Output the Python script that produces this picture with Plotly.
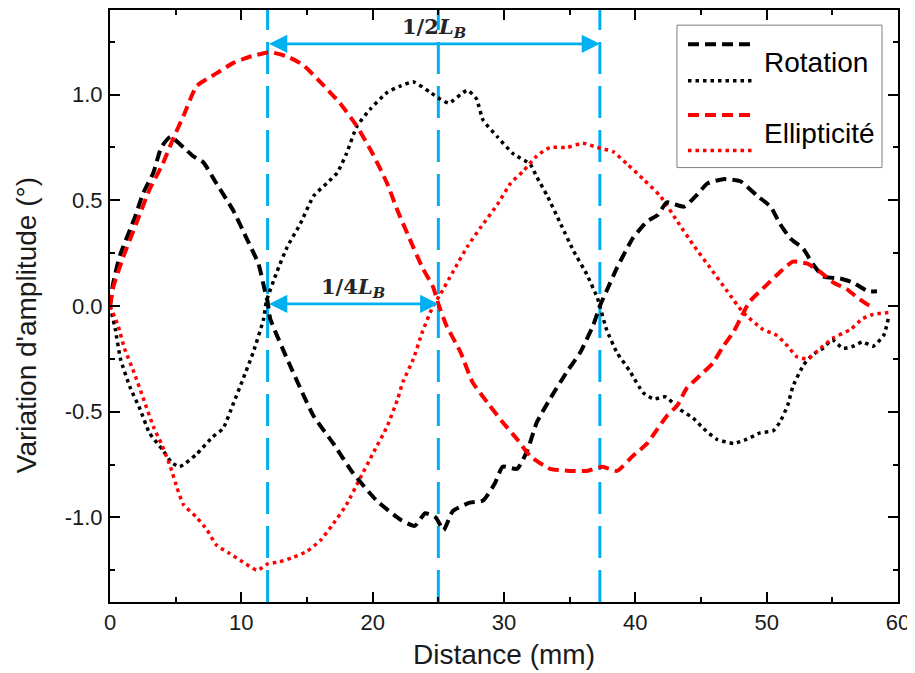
import plotly.graph_objects as go

# ---------------- data ----------------
rot_dash_x = [0, 0.25, 0.76, 1.9, 2.5, 3.3, 3.9, 4.6, 5.6, 6.3, 7.1, 8.0, 9.4, 10.4, 11.3, 11.8, 12.0,
              12.2, 13.7, 15.5, 17.0, 18.5, 20.3, 22.1, 23.2, 24.0, 24.8, 25.4, 26.1, 27.4, 28.4, 29.3,
              29.9, 31.0, 31.8, 32.5, 33.5, 34.8, 35.8, 36.8, 37.3, 37.8, 38.6, 39.8, 40.9, 41.7, 42.4,
              43.7, 44.6, 45.5, 46.7, 48.0, 49.3, 50.3, 51.0, 51.8, 52.8, 53.5, 54.3, 55.6, 56.6, 57.7, 58.4]
rot_dash_y = [0, 0.11, 0.24, 0.42, 0.53, 0.63, 0.75, 0.80, 0.75, 0.71, 0.68, 0.59, 0.45, 0.32, 0.20, 0.07, 0.02,
              -0.06, -0.28, -0.52, -0.65, -0.79, -0.92, -1.01, -1.04, -0.98, -1.00, -1.06, -0.97, -0.93, -0.92, -0.84,
              -0.76, -0.77, -0.68, -0.55, -0.44, -0.31, -0.22, -0.09, 0.0, 0.07, 0.18, 0.32, 0.40, 0.43, 0.49,
              0.47, 0.52, 0.58, 0.60, 0.59, 0.52, 0.47, 0.39, 0.32, 0.27, 0.20, 0.14, 0.13, 0.11, 0.07, 0.07]

rot_dot_x = [0, 0.4, 0.8, 1.5, 2.3, 3.0, 4.0, 4.7, 5.3, 6.6, 7.8, 8.6, 9.4, 10.1, 10.9, 11.7, 11.9,
             12.7, 13.5, 14.5, 15.5, 16.5, 17.3, 18.0, 18.8, 19.8, 21.1, 22.1, 23.1, 24.4, 25.1, 25.8,
             27.2, 27.9, 28.4, 29.5, 30.7, 32.0, 32.5, 33.3, 34.3, 35.3, 36.3, 37.1, 37.3, 37.8, 38.6,
             39.6, 40.6, 41.4, 42.3, 43.4, 44.4, 45.2, 46.2, 47.5, 48.5, 49.5, 50.5, 51.0, 51.6, 52.0,
             52.8, 53.5, 54.3, 55.0, 55.8, 56.6, 57.3, 58.1, 58.9, 59.3]
rot_dot_y = [0, -0.11, -0.25, -0.38, -0.49, -0.60, -0.68, -0.74, -0.76, -0.70, -0.62, -0.58, -0.46, -0.35, -0.22, -0.06, 0.02,
             0.16, 0.28, 0.39, 0.52, 0.58, 0.63, 0.72, 0.85, 0.93, 1.01, 1.04, 1.06, 1.01, 0.98, 0.96,
             1.02, 0.98, 0.88, 0.80, 0.72, 0.67, 0.61, 0.52, 0.39, 0.26, 0.15, 0.04, 0.0, -0.11, -0.22,
             -0.31, -0.41, -0.44, -0.43, -0.49, -0.53, -0.58, -0.63, -0.65, -0.63, -0.60, -0.59, -0.55, -0.47, -0.38,
             -0.28, -0.23, -0.20, -0.16, -0.20, -0.19, -0.17, -0.19, -0.14, -0.05]

ell_dash_x = [0, 0.25, 1.0, 2.0, 3.0, 4.0, 4.8, 5.6, 6.6, 8.1, 9.4, 10.7, 12.2, 13.5, 14.7, 16.0, 17.5,
              18.8, 20.0, 21.1, 21.9, 22.8, 23.8, 24.6, 25.0, 25.6, 26.7, 27.6, 28.9, 29.9, 31.0, 32.0,
              33.5, 35.0, 36.3, 37.5, 38.6, 39.8, 40.9, 41.7, 42.4, 43.2, 43.9, 44.9, 45.9, 46.7, 47.5,
              48.0, 48.7, 50.0, 51.0, 52.0, 53.1, 54.1, 55.1, 56.1, 56.9, 57.9, 58.2]
ell_dash_y = [0, 0.09, 0.23, 0.39, 0.55, 0.67, 0.79, 0.90, 1.04, 1.10, 1.15, 1.18, 1.20, 1.18, 1.14, 1.06, 0.96,
              0.85, 0.72, 0.58, 0.45, 0.32, 0.18, 0.09, 0.01, -0.09, -0.22, -0.36, -0.47, -0.55, -0.63, -0.71,
              -0.77, -0.78, -0.78, -0.76, -0.78, -0.71, -0.65, -0.58, -0.52, -0.47, -0.39, -0.33, -0.27, -0.19, -0.12,
              -0.06, 0.02, 0.10, 0.16, 0.21, 0.20, 0.16, 0.11, 0.08, 0.04, 0.0, 0.0]

ell_dot_x = [0, 0.6, 1.1, 1.8, 2.5, 3.3, 3.9, 4.6, 5.1, 5.6, 6.6, 7.4, 8.1, 9.1, 10.1, 11.2, 12.0,
             12.9, 13.9, 15.0, 16.0, 17.0, 18.0, 19.0, 20.0, 21.1, 21.9, 22.3, 23.1, 23.8, 24.6, 25.1,
             26.1, 27.2, 28.2, 29.5, 30.5, 31.5, 32.5, 33.5, 34.8, 36.0, 37.1, 38.3, 39.4, 40.6, 41.9,
             43.2, 44.4, 45.7, 47.0, 48.2, 49.7, 50.8, 51.6, 52.3, 53.1, 54.1, 55.1, 56.4, 57.3, 58.1, 59.4]
ell_dot_y = [0, -0.09, -0.20, -0.31, -0.43, -0.57, -0.65, -0.76, -0.86, -0.94, -1.00, -1.06, -1.13, -1.17, -1.21, -1.25, -1.22,
             -1.21, -1.19, -1.16, -1.11, -1.03, -0.94, -0.82, -0.70, -0.57, -0.44, -0.36, -0.25, -0.12, 0.0, 0.05,
             0.16, 0.28, 0.37, 0.48, 0.58, 0.64, 0.71, 0.75, 0.75, 0.77, 0.75, 0.73, 0.67, 0.60, 0.52,
             0.40, 0.29, 0.18, 0.07, -0.03, -0.11, -0.14, -0.19, -0.24, -0.25, -0.20, -0.15, -0.11, -0.06, -0.04, -0.03]

lb_positions = [12.0, 25.0, 37.3]          # vertical markers (mm)
arrow_starts = [12.0, 12.0]
arrow_ends = [37.3, 25.0]
arrow_levels = [1.24, 0.01]
arrow_labels = ["<b>1/2<i>L</i><sub><i>B</i></sub></b>", "<b>1/4<i>L</i><sub><i>B</i></sub></b>"]

x_tick_vals = [0, 10, 20, 30, 40, 50, 60]
y_tick_vals = [-1.0, -0.5, 0.0, 0.5, 1.0]
y_tick_text = ["-1.0", "-0.5", "0.0", "0.5", "1.0"]

x_title = "Distance (mm)"
y_title = "Variation d'amplitude (°)"
series_names = ["Rotation", "Ellipticité"]

# ---------------- style ----------------
BLACK = "#000000"
RED = "#FF0000"
BLUE = "#00B0F0"
DASH = "11px,6px"
DOT = "3.5px,4px"
FONT = "Liberation Sans, Arial, sans-serif"
TXT = "#1a1a1a"

fig = go.Figure()

def add_curve(x, y, color, dash, width):
    fig.add_trace(go.Scatter(x=x, y=y, mode="lines", showlegend=False, hoverinfo="skip",
                             line=dict(color=color, dash=dash, width=width, shape="spline", smoothing=0.5)))

add_curve(rot_dot_x, rot_dot_y, BLACK, DOT, 3.5)
add_curve(ell_dot_x, ell_dot_y, RED, DOT, 3.5)
add_curve(rot_dash_x, rot_dash_y, BLACK, DASH, 4)
add_curve(ell_dash_x, ell_dash_y, RED, DASH, 4)

shapes = []
for xv in lb_positions:
    shapes.append(dict(type="line", xref="x", yref="paper", x0=xv, x1=xv, y0=0, y1=1,
                       line=dict(color=BLUE, width=3, dash="32px,12px"), layer="below"))

# custom legend (box + samples), paper coordinates
shapes.append(dict(type="rect", xref="paper", yref="paper", x0=0.7195, x1=0.9797, y0=0.7338, y1=0.9744,
                   line=dict(color="#7F7F7F", width=1), fillcolor="white", layer="above"))
legend_samples = [(0.9420, BLACK, DASH, 4), (0.8805, BLACK, DOT, 3.5),
                  (0.8225, RED, DASH, 4), (0.7628, RED, DOT, 3.5)]
for yy, col, dsh, w in legend_samples:
    shapes.append(dict(type="line", xref="paper", yref="paper", x0=0.7335, x1=0.8147, y0=yy, y1=yy,
                       line=dict(color=col, width=w, dash=dsh), layer="above"))

annotations = []
for x0, x1, yv, lab in zip(arrow_starts, arrow_ends, arrow_levels, arrow_labels):
    # double-headed arrow between the two markers
    annotations.append(dict(x=x1, y=yv, ax=x0, ay=yv, xref="x", yref="y", axref="x", ayref="y",
                            text="", showarrow=True, arrowhead=2, startarrowhead=2, arrowsize=1.4,
                            startarrowsize=1.4, arrowwidth=2.6, arrowcolor=BLUE, arrowside="end+start",
                            standoff=0, startstandoff=0))
    annotations.append(dict(x=(x0 + x1) / 2, y=yv, xref="x", yref="y",
                            text=lab, showarrow=False, yanchor="bottom", yshift=1,
                            font=dict(family="DejaVu Serif, Liberation Serif, serif", size=21, color="#262626")))

for name, yy in zip(series_names, [0.9113, 0.7918]):
    annotations.append(dict(x=0.8274, y=yy, xref="paper", yref="paper", text=name, showarrow=False,
                            xanchor="left", yanchor="middle", font=dict(family=FONT, size=28, color="black")))

# axis titles placed as in the reference
annotations.append(dict(x=0.5, y=-0.0887, xref="paper", yref="paper", text=x_title, showarrow=False,
                        xanchor="center", yanchor="middle", font=dict(family=FONT, size=28, color=TXT)))
annotations.append(dict(x=-0.1066, y=0.4676, xref="paper", yref="paper", text=y_title, showarrow=False,
                        textangle=-90, xanchor="center", yanchor="middle",
                        font=dict(family=FONT, size=28, color=TXT)))

axis_common = dict(showline=True, linecolor="black", linewidth=2, mirror="ticks", ticks="inside",
                   ticklen=10, tickwidth=1.5, tickcolor="black", showgrid=False, zeroline=False,
                   tickfont=dict(family=FONT, size=22, color=TXT))

# page body has an 8px margin: compensate so the plot area lands where the reference has it
fig.update_layout(
    width=907, height=665,
    margin=dict(l=102, r=17, t=0, b=71),
    paper_bgcolor="white", plot_bgcolor="white",
    showlegend=False,
    shapes=shapes, annotations=annotations,
    xaxis=dict(range=[0, 60], tickvals=x_tick_vals, ticklabelstandoff=0,
               minor=dict(dtick=5, ticks="inside", ticklen=5, tickwidth=1.5, tickcolor="black"),
               **axis_common),
    yaxis=dict(range=[-1.4, 1.4], tickvals=y_tick_vals, ticktext=y_tick_text, ticklabelstandoff=1,
               minor=dict(dtick=0.25, tick0=0, ticks="inside", ticklen=5, tickwidth=1.5, tickcolor="black"),
               **axis_common),
)

fig.write_html("out.html")
